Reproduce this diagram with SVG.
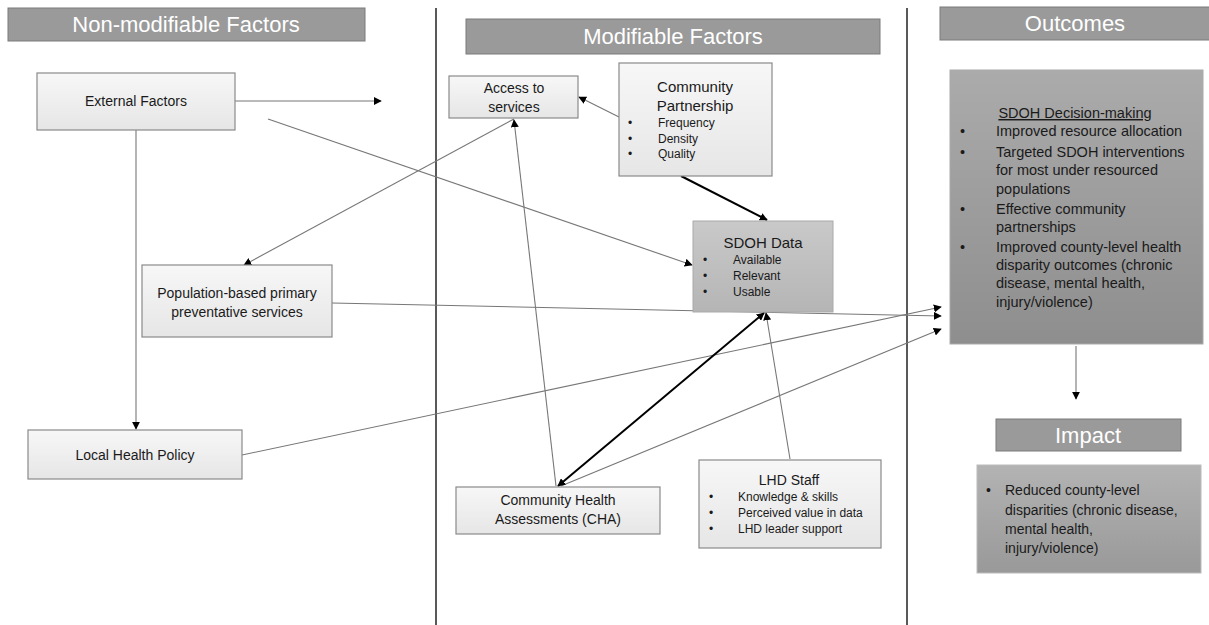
<svg xmlns="http://www.w3.org/2000/svg" width="1209" height="625" viewBox="0 0 1209 625">
<defs>
<linearGradient id="gLight" x1="0" y1="0" x2="0" y2="1"><stop offset="0" stop-color="#f7f7f7"/><stop offset="1" stop-color="#e6e6e6"/></linearGradient>
<linearGradient id="gMid" x1="0" y1="0" x2="0" y2="1"><stop offset="0" stop-color="#c9c9c9"/><stop offset="1" stop-color="#b5b5b5"/></linearGradient>
<linearGradient id="gDark" x1="0" y1="0" x2="0" y2="1"><stop offset="0" stop-color="#ababab"/><stop offset="1" stop-color="#8e8e8e"/></linearGradient>
<linearGradient id="gImp" x1="0" y1="0" x2="0" y2="1"><stop offset="0" stop-color="#b3b3b3"/><stop offset="1" stop-color="#999"/></linearGradient>
<marker id="ah" viewBox="0 0 10 10" refX="9" refY="5" markerWidth="8" markerHeight="8" markerUnits="userSpaceOnUse" orient="auto-start-reverse"><path d="M0,0 L10,5 L0,10 z" fill="#000"/></marker>
</defs>
<style>
text{font-family:"Liberation Sans",Arial,sans-serif;fill:#1a1a1a}
.hdr{fill:#9a9a9a;stroke:#7a7a7a;stroke-width:1}
.ht{fill:#fff;font-size:22px;text-anchor:middle}
.box{fill:url(#gLight);stroke:#8a8a8a;stroke-width:1.2}
.t14{font-size:14px;text-anchor:middle}
.t15{font-size:15px;text-anchor:middle}
.b{font-size:12px}
.d{font-size:14.5px}
.i{font-size:14px}
.ln{stroke:#777;stroke-width:1.1;fill:none}
.lb{stroke:#000;stroke-width:2;fill:none}
</style>
<rect width="1209" height="625" fill="#fff"/>
<g id="dividers">
<line x1="436" y1="8" x2="436" y2="625" stroke="#222" stroke-width="1.5"/>
<line x1="907" y1="8" x2="907" y2="625" stroke="#222" stroke-width="1.5"/>
</g>
<g id="hdr-nonmod"><rect class="hdr" x="8" y="8" width="357" height="33"/><text class="ht" x="186" y="32">Non-modifiable Factors</text></g>
<g id="hdr-mod"><rect class="hdr" x="466" y="19" width="414" height="35"/><text class="ht" x="673" y="44">Modifiable Factors</text></g>
<g id="hdr-out"><rect class="hdr" x="940" y="7" width="272" height="33"/><text class="ht" x="1075" y="31">Outcomes</text></g>
<g id="hdr-impact"><rect class="hdr" x="996" y="419" width="185" height="32"/><text class="ht" x="1088" y="443">Impact</text></g>

<g id="connectors">
<line class="ln" x1="235" y1="101" x2="381" y2="101" marker-end="url(#ah)"/>
<line class="ln" x1="268" y1="119" x2="692" y2="265" marker-end="url(#ah)"/>
<line class="ln" x1="136" y1="130" x2="136" y2="429" marker-end="url(#ah)"/>
<line class="ln" x1="514" y1="119" x2="244" y2="265" marker-end="url(#ah)"/>
<line class="ln" x1="619" y1="117" x2="579" y2="97" marker-end="url(#ah)"/>
<line class="lb" x1="681" y1="176" x2="767" y2="220" marker-end="url(#ah)"/>
<line class="ln" x1="332" y1="303" x2="941" y2="316" marker-end="url(#ah)"/>
<line class="ln" x1="242" y1="455" x2="941" y2="307" marker-end="url(#ah)"/>
<line class="ln" x1="561" y1="486" x2="941" y2="329" marker-end="url(#ah)"/>
<line class="lb" x1="764" y1="313" x2="558" y2="486" marker-start="url(#ah)" marker-end="url(#ah)"/>
<line class="ln" x1="790" y1="459" x2="766" y2="313" marker-end="url(#ah)"/>
<line class="ln" x1="556" y1="486" x2="514" y2="120" marker-end="url(#ah)"/>
<line class="ln" x1="1076" y1="346" x2="1076" y2="399" marker-end="url(#ah)"/>
</g>

<g id="external"><rect class="box" x="37" y="73" width="198" height="57"/><text class="t14" x="136" y="106">External Factors</text></g>
<g id="access"><rect class="box" x="449" y="76" width="129" height="42"/><text class="t14" x="514" y="93">Access to</text><text class="t14" x="514" y="112">services</text></g>
<g id="partnership"><rect class="box" x="619" y="63" width="153" height="113"/>
<text class="t15" x="695" y="92">Community</text><text class="t15" x="695" y="111">Partnership</text>
<text class="b" x="628" y="127">•</text><text class="b" x="658" y="127">Frequency</text>
<text class="b" x="628" y="143">•</text><text class="b" x="658" y="143">Density</text>
<text class="b" x="628" y="158">•</text><text class="b" x="658" y="158">Quality</text>
</g>
<g id="sdohdata"><rect x="693" y="221" width="140" height="91" fill="url(#gMid)" stroke="#aaa" stroke-width="1"/>
<text class="t15" x="763" y="248">SDOH Data</text>
<text class="b" x="703" y="264">•</text><text class="b" x="733" y="264">Available</text>
<text class="b" x="703" y="280">•</text><text class="b" x="733" y="280">Relevant</text>
<text class="b" x="703" y="296">•</text><text class="b" x="733" y="296">Usable</text>
</g>
<g id="popbased"><rect class="box" x="142" y="265" width="190" height="72"/><text class="t14" x="237" y="298">Population-based primary</text><text class="t14" x="237" y="317">preventative services</text></g>
<g id="policy"><rect class="box" x="28" y="430" width="214" height="49"/><text class="t14" x="135" y="460">Local Health Policy</text></g>
<g id="cha"><rect class="box" x="456" y="487" width="204" height="47"/><text class="t14" x="558" y="505">Community Health</text><text class="t14" x="558" y="524">Assessments (CHA)</text></g>
<g id="lhd"><rect class="box" x="699" y="460" width="182" height="88"/>
<text class="t14" x="789" y="485">LHD Staff</text>
<text class="b" x="709" y="501">•</text><text class="b" x="738" y="501">Knowledge &amp; skills</text>
<text class="b" x="709" y="517">•</text><text class="b" x="738" y="517">Perceived value in data</text>
<text class="b" x="709" y="533">•</text><text class="b" x="738" y="533">LHD leader support</text>
</g>
<g id="decision"><rect x="950" y="70" width="253" height="274" fill="url(#gDark)" stroke="#aaa" stroke-width="1"/>
<text class="d" x="1075" y="118" text-anchor="middle" text-decoration="underline">SDOH Decision-making</text>
<text class="d" x="960" y="136">•</text><text class="d" x="996" y="136">Improved resource allocation</text>
<text class="d" x="960" y="157">•</text><text class="d" x="996" y="157">Targeted SDOH interventions</text>
<text class="d" x="996" y="175">for most under resourced</text>
<text class="d" x="996" y="194">populations</text>
<text class="d" x="960" y="214">•</text><text class="d" x="996" y="214">Effective community</text>
<text class="d" x="996" y="232">partnerships</text>
<text class="d" x="960" y="252">•</text><text class="d" x="996" y="252">Improved county-level health</text>
<text class="d" x="996" y="270">disparity outcomes (chronic</text>
<text class="d" x="996" y="288">disease, mental health,</text>
<text class="d" x="996" y="307">injury/violence)</text>
</g>
<g id="impact"><rect x="977" y="465" width="224" height="108" fill="url(#gImp)" stroke="#bbb" stroke-width="1"/>
<text class="i" x="986" y="495">•</text><text class="i" x="1005" y="495">Reduced county-level</text>
<text class="i" x="1005" y="515">disparities (chronic disease,</text>
<text class="i" x="1005" y="534">mental health,</text>
<text class="i" x="1005" y="553">injury/violence)</text>
</g>
</svg>
